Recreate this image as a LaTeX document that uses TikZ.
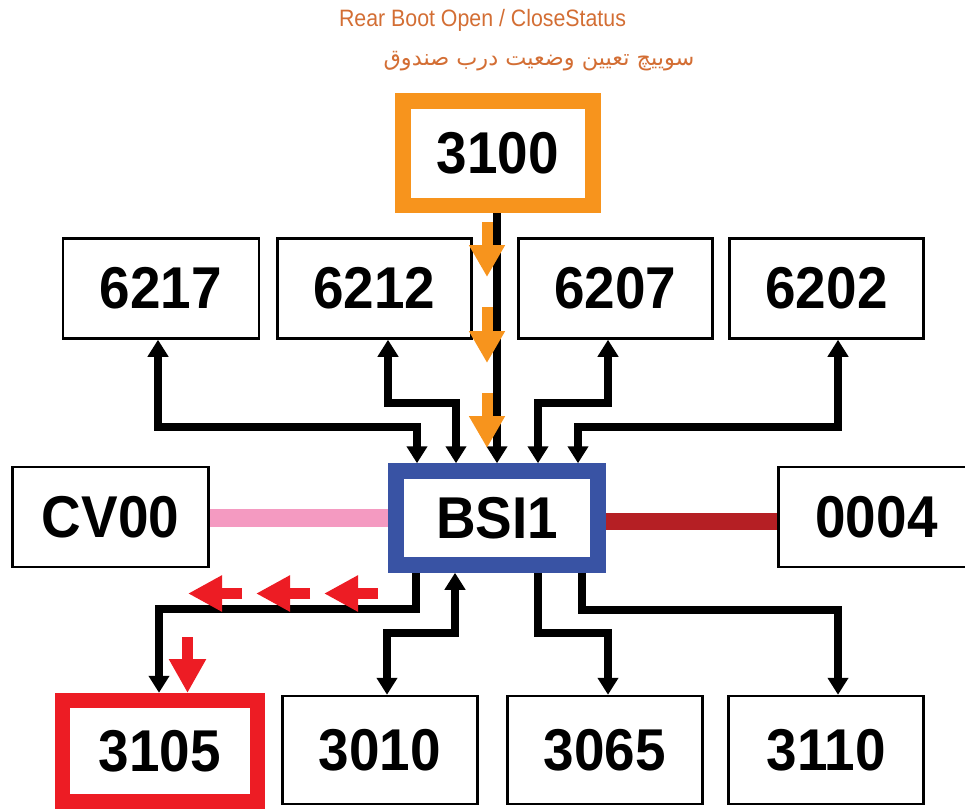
\documentclass[tikz,border=0pt]{standalone}
\usepackage{fontspec}
\usetikzlibrary{arrows.meta}
\TeXXeTstate=1
\newfontfamily\boxfont[FakeStretch=0.93]{Liberation Sans}
\newfontfamily\titlefont[FakeStretch=0.9]{Liberation Sans}
\newfontfamily\arabicfont[Script=Arabic]{DejaVu Sans}
\definecolor{borange}{HTML}{F7941D}
\definecolor{bblue}{HTML}{3953A4}
\definecolor{bred}{HTML}{ED1C24}
\definecolor{bpink}{HTML}{F49AC1}
\definecolor{bdark}{HTML}{B51F24}
\definecolor{tcol}{HTML}{D36E34}
\tikzset{
  box/.style={draw=black, line width=2.5pt, fill=white, inner sep=0pt,
    minimum width=195pt, minimum height=100pt,
    font=\boxfont\bfseries\fontsize{59}{60}\selectfont},
  hibox/.style={box, line width=15.5pt},
  conn/.style={line width=8pt, line join=miter, draw=black},
  tip/.tip={Triangle[width=20pt,length=17pt]},
  oarrow/.style={line width=11pt, draw=borange, -{Triangle[width=34pt,length=32pt]}},
  rarrow/.style={line width=11pt, draw=bred, -{Triangle[width=34pt,length=34pt]}}
}
\begin{document}
\begin{tikzpicture}[x=1pt,y=-1pt]
\useasboundingbox (0,0) rectangle (965,808);
% title
\node[font=\titlefont\fontsize{23.7}{26}\selectfont, text=tcol, anchor=base, inner sep=0pt] (title) at (482.5,27) {Rear Boot Open / CloseStatus};
\node[font=\arabicfont\fontsize{22.4}{26}\selectfont, text=tcol, anchor=base, inner sep=0pt] (ptitle) at (539,65) {\beginR سوییچ تعیین وضعیت درب صندوق\endR};
% boxes
\node[hibox, draw=borange, minimum width=190pt, minimum height=104.5pt] (b3100) at (498,153) {3100};
\node[box, minimum width=196pt] (b6217) at (161,288.5) {6217};
\node[box, minimum width=194pt] (b6212) at (374.5,288.5) {6212};
\node[box, minimum width=194pt] (b6207) at (615.5,288.5) {6207};
\node[box, minimum width=194pt] (b6202) at (826.5,288.5) {6202};
\node[box, minimum width=196pt] (cv) at (110.5,517) {CV00};
\node[hibox, draw=bblue, minimum width=202pt, minimum height=94pt] (bsi) at (497,518) {BSI1};
\node[box, minimum width=196pt] (z0004) at (876.5,517) {0004};
\node[hibox, draw=bred, minimum width=195pt, minimum height=101pt] (b3105) at (160,751) {3105};
\node[box, minimum width=195pt, minimum height=108pt] (b3010) at (380,750) {3010};
\node[box, minimum width=195pt, minimum height=108pt] (b3065) at (605,750) {3065};
\node[box, minimum width=195pt, minimum height=108pt] (b3110) at (826,750) {3110};
% bus lines
\draw[line width=18pt, bpink] (cv.east |- 0,517.5) -- (bsi.west |- 0,517.5);
\draw[line width=17pt, bdark] (bsi.east |- 0,521) -- (z0004.west |- 0,521);
% top connectors
\draw[conn, tip-tip] ([xshift=-3pt]b6217.south) -- ([xshift=-3pt]b6217.south |- 0,427) -| ([xshift=-80pt]bsi.north);
\draw[conn, tip-tip] ([xshift=13.5pt]b6212.south) -- ([xshift=13.5pt]b6212.south |- 0,403) -| ([xshift=-41pt]bsi.north);
\draw[conn, tip-tip] ([xshift=-7.5pt]b6207.south) -- ([xshift=-7.5pt]b6207.south |- 0,403) -| ([xshift=41pt]bsi.north);
\draw[conn, tip-tip] ([xshift=11.5pt]b6202.south) -- ([xshift=11.5pt]b6202.south |- 0,427) -| ([xshift=81pt]bsi.north);
\draw[conn, -tip] (bsi.north |- b3100.south) -- (bsi.north);
% bottom connectors
\draw[conn, -tip] ([xshift=-81pt]bsi.south) -- ([xshift=-81pt]bsi.south |- 0,609) -| ([xshift=-1pt]b3105.north);
\draw[conn, tip-tip] ([xshift=7pt]b3010.north) -- ([xshift=7pt]b3010.north |- 0,633) -| ([xshift=-42pt]bsi.south);
\draw[conn, -tip] ([xshift=41pt]bsi.south) -- ([xshift=41pt]bsi.south |- 0,633) -| ([xshift=3pt]b3065.north);
\draw[conn, -tip] ([xshift=85pt]bsi.south) -- ([xshift=85pt]bsi.south |- 0,610) -| ([xshift=12pt]b3110.north);
% orange flow arrows
\draw[oarrow] (487,222) -- (487,277);
\draw[oarrow] (487,307) -- (487,363);
\draw[oarrow] (487,393) -- (487,448);
% red flow arrows
\draw[rarrow] (242,593.5) -- (188,593.5);
\draw[rarrow] (310,593.5) -- (256,593.5);
\draw[rarrow] (378,593.5) -- (324,593.5);
\draw[rarrow, -{Triangle[width=35pt,length=34pt]}] (187.5,637) -- (187.5,693);
\end{tikzpicture}
\end{document}
